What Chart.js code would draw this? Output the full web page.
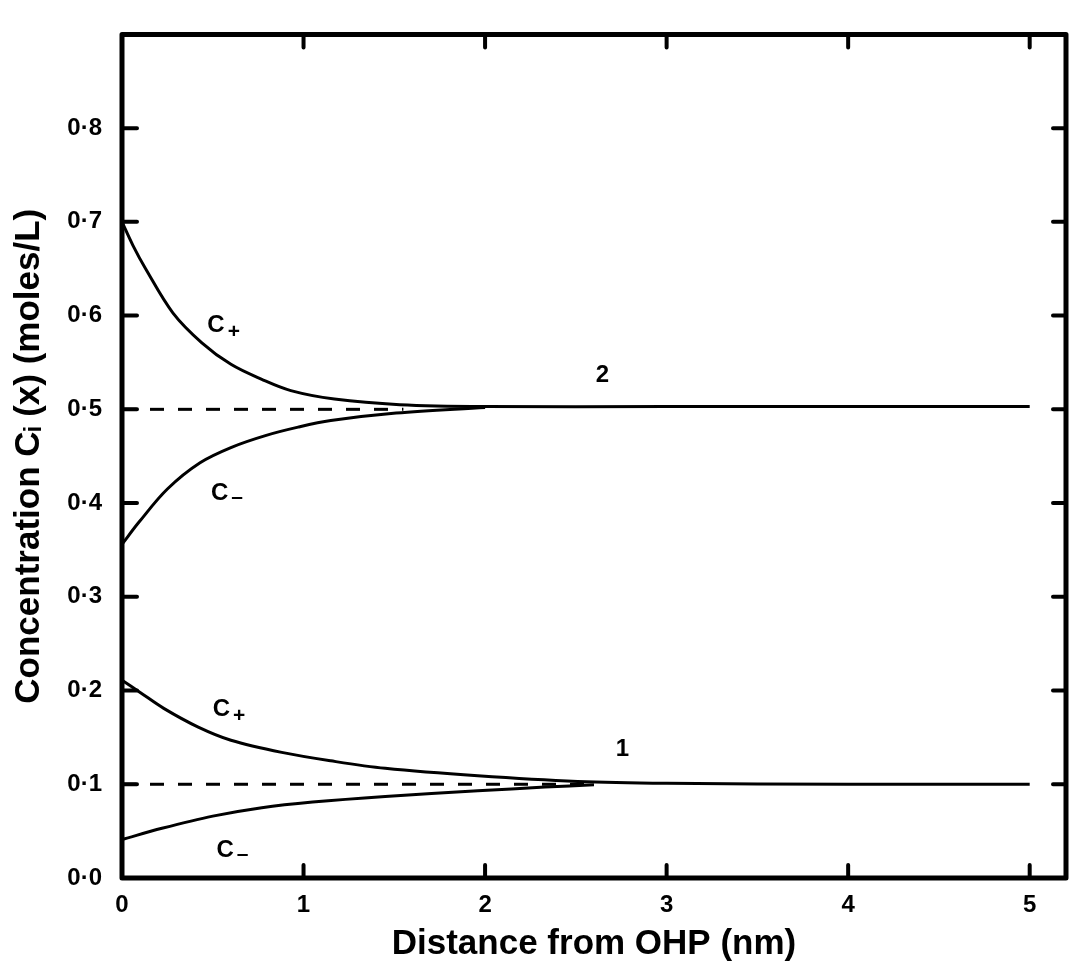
<!DOCTYPE html>
<html>
<head>
<meta charset="utf-8">
<script src="https://cdn.jsdelivr.net/npm/chart.js@4.4.0/dist/chart.umd.min.js"></script>
<style>
  body { margin: 0; background: #fff; }
  canvas { display: block; }
</style>
</head>
<body>
<canvas id="chart" width="1070" height="969"></canvas>
<script>
// curve 2 (bulk 0.5 M)
const xPlus2 = [0, 0.06, 0.13, 0.28, 0.44, 0.60, 0.77, 0.93, 1.17, 1.53, 2.0, 3.0, 4.0, 5.0];
const yPlus2 = [0.700, 0.675, 0.650, 0.603, 0.571, 0.548, 0.532, 0.520, 0.511, 0.505, 0.503, 0.503, 0.503, 0.503];
const xMinus2 = [0, 0.095, 0.25, 0.43, 0.61, 0.79, 0.97, 1.15, 1.51, 2.0];
const yMinus2 = [0.356, 0.380, 0.415, 0.443, 0.460, 0.472, 0.481, 0.488, 0.496, 0.502];

// curve 1 (bulk 0.1 M)
const xPlus1 = [0, 0.10, 0.23, 0.42, 0.60, 0.88, 1.15, 1.45, 1.96, 2.51, 3.0, 4.0, 5.0];
const yPlus1 = [0.211, 0.198, 0.181, 0.161, 0.147, 0.134, 0.125, 0.117, 0.109, 0.103, 0.101, 0.100, 0.100];
const xMinus1 = [0, 0.22, 0.50, 0.77, 1.05, 1.45, 1.96, 2.33, 2.6];
const yMinus1 = [0.041, 0.053, 0.066, 0.075, 0.081, 0.087, 0.093, 0.097, 0.0995];

// dashed bulk levels
const xBulk2 = [0, 1.55];
const yBulk2 = [0.5, 0.5];
const xBulk1 = [0, 2.6];
const yBulk1 = [0.1, 0.1];

// axis ticks
const xTicks = [0, 1, 2, 3, 4, 5];
const yTicks = [0, 0.1, 0.2, 0.3, 0.4, 0.5, 0.6, 0.7, 0.8];

// curve labels (text, subscript, data position of left edge)
const labelText = ["C", "C", "C", "C", "2", "1"];
const labelSub = ["+", "\u2013", "+", "\u2013", "", ""];
const labelX = [0.47, 0.49, 0.50, 0.52, 2.61, 2.72];
const labelY = [0.59, 0.41, 0.18, 0.03, 0.536, 0.137];

function pts(xs, ys) {
  return xs.map((x, i) => ({ x: x, y: ys[i] }));
}

function curve(xs, ys) {
  return {
    data: pts(xs, ys),
    borderColor: "#000",
    borderWidth: 3,
    pointRadius: 0,
    showLine: true,
    fill: false,
    tension: 0.35,
  };
}

function dashed(xs, ys) {
  return {
    data: pts(xs, ys),
    borderColor: "#000",
    borderWidth: 3,
    borderDash: [14, 14],
    pointRadius: 0,
    showLine: true,
    fill: false,
  };
}

// frame with inward ticks, plus curve labels
const framePlugin = {
  id: "frame",
  afterDatasetsDraw(chart) {
    const ctx = chart.ctx;
    const a = chart.chartArea;
    const xs = chart.scales.x;
    const ys = chart.scales.y;
    ctx.save();
    ctx.strokeStyle = "#000";
    ctx.lineCap = "round";
    ctx.lineWidth = 4;
    xTicks.forEach((v) => {
      if (v === 0) return;
      const px = xs.getPixelForValue(v);
      ctx.beginPath();
      ctx.moveTo(px, a.bottom);
      ctx.lineTo(px, a.bottom - 13);
      ctx.moveTo(px, a.top);
      ctx.lineTo(px, a.top + 13);
      ctx.stroke();
    });
    yTicks.forEach((v) => {
      if (v === 0) return;
      const py = ys.getPixelForValue(v);
      ctx.beginPath();
      ctx.moveTo(a.left, py);
      ctx.lineTo(a.left + 15, py);
      ctx.moveTo(a.right, py);
      ctx.lineTo(a.right - 13, py);
      ctx.stroke();
    });
    ctx.lineWidth = 5;
    ctx.lineJoin = "round";
    ctx.strokeRect(a.left, a.top, a.right - a.left, a.bottom - a.top);

    ctx.fillStyle = "#000";
    ctx.textBaseline = "middle";
    ctx.textAlign = "left";
    labelText.forEach((t, i) => {
      const px = xs.getPixelForValue(labelX[i]);
      const py = ys.getPixelForValue(labelY[i]);
      ctx.font = "bold 24px 'Liberation Sans', Arial, sans-serif";
      ctx.fillText(t, px, py);
      if (labelSub[i]) {
        const w = ctx.measureText(t).width;
        ctx.font = "bold 21px 'Liberation Sans', Arial, sans-serif";
        ctx.fillText(labelSub[i], px + w + 3, py + (labelSub[i] === "+" ? 7 : 4));
      }
    });
    ctx.restore();
  },
};

const tickFont = { family: "'Liberation Sans', Arial, sans-serif", size: 24, weight: "bold" };
const titleFont = { family: "'Liberation Sans', Arial, sans-serif", size: 35, weight: "bold" };

new Chart(document.getElementById("chart"), {
  type: "scatter",
  data: {
    datasets: [
      curve(xPlus2, yPlus2),
      curve(xMinus2, yMinus2),
      curve(xPlus1, yPlus1),
      curve(xMinus1, yMinus1),
      dashed(xBulk2, yBulk2),
      dashed(xBulk1, yBulk1),
    ],
  },
  options: {
    responsive: false,
    animation: false,
    devicePixelRatio: 1,
    layout: { padding: { top: 23, right: 4, left: 0, bottom: 0 } },
    plugins: {
      legend: { display: false },
      tooltip: { enabled: false },
    },
    scales: {
      x: {
        type: "linear",
        min: 0,
        max: 5.2,
        border: { display: false },
        grid: { display: false, drawTicks: false },
        afterBuildTicks: (scale) => {
          scale.ticks = xTicks.map((v) => ({ value: v }));
        },
        ticks: {
          color: "#000",
          font: tickFont,
          padding: 13,
          maxRotation: 0,
          callback: (v) => String(v),
        },
        title: {
          display: true,
          text: "Distance from OHP (nm)",
          color: "#000",
          font: titleFont,
          padding: { top: 4, bottom: 4 },
        },
        afterFit: (scale) => {
          scale.height = 91;
        },
      },
      y: {
        min: 0,
        max: 0.9,
        border: { display: false },
        grid: { display: false, drawTicks: false },
        afterBuildTicks: (scale) => {
          scale.ticks = yTicks.map((v) => ({ value: v }));
        },
        ticks: {
          color: "#000",
          font: tickFont,
          padding: 20,
          callback: (v) => v.toFixed(1).replace(".", "\u00b7"),
        },
        title: {
          display: true,
          text: "Concentration C\u1d62 (x) (moles/L)",
          color: "#000",
          font: titleFont,
          padding: { top: 8, bottom: 0 },
        },
        afterFit: (scale) => {
          scale.width = 122;
        },
      },
    },
  },
  plugins: [framePlugin],
});
</script>
</body>
</html>
